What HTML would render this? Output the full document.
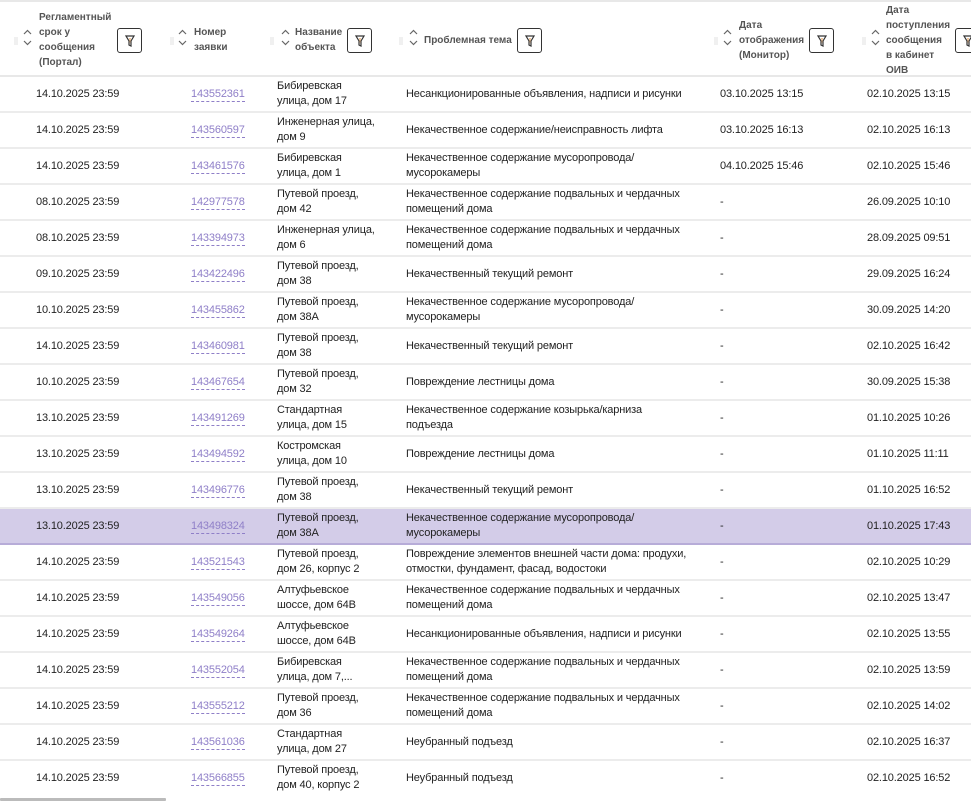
<!DOCTYPE html>
<html><head><meta charset="utf-8"><style>
*{margin:0;padding:0;box-sizing:border-box}
body{width:971px;height:812px;overflow:hidden;background:#fff;font-family:"Liberation Sans",Arial,sans-serif;font-size:11px;letter-spacing:-0.15px;color:#222;position:relative}
.hdr{position:absolute;left:0;top:0;width:971px;height:77px;border-top:2px solid #e8e8e8;border-bottom:2px solid #e8e8e8}
.h{position:absolute;font-size:10px;font-weight:bold;color:#555;line-height:15px;letter-spacing:0}
.fb{position:absolute;top:26px;width:25px;height:25px;border:1px solid #333;border-radius:3px}
.fb svg{position:absolute;left:7px;top:6px}
.ar{position:absolute}
.dt{position:absolute;width:4px;height:8px;top:35px;background:radial-gradient(circle,#ccc 0.7px,transparent 0.8px) 0 0/2px 2px}
.r{position:absolute;left:0;width:971px;height:36px;border-bottom:2px solid #ececec}
.r.sel{background:#d3cce8;border-bottom-color:#b7acd8}
.c{position:absolute;top:0;height:34px;display:flex;align-items:center;line-height:15px}
.a{left:36px}.b{left:191px;color:#8f7fc8;}
.b span{border-bottom:1px dashed #8f7fc8;line-height:14px}
.o{left:277px;width:125px}.t{left:406px;width:300px}.m{left:720px}.d{left:867px}
.sb{position:absolute;left:0;top:798px;width:166px;height:3px;background:#bbb;border-radius:1px}
</style></head><body>
<svg width="0" height="0" style="position:absolute"><defs>
<g id="ch"><path d="M1 5 L4.5 1.5 L8 5" fill="none" stroke="#666" stroke-width="1.2"/><path d="M1 12 L4.5 15.5 L8 12" fill="none" stroke="#666" stroke-width="1.2"/></g>
<g id="fn"><path d="M1 1 L9 1 L6 6 L6 11 L4 10 L4 6 Z" fill="none" stroke="#333" stroke-width="1.2"/><path d="M4.5 3 L5.5 3 L5 9Z" fill="#e08020"/></g>
</defs></svg>
<div class="hdr">
<div class="dt" style="left:14px"></div><svg class="ar" style="left:23px;top:27px" width="10" height="18"><use href="#ch"/></svg>
<div class="h" style="left:39px;top:8px">Регламентный<br>срок у<br>сообщения<br>(Портал)</div>
<div class="fb" style="left:117px"><svg width="11" height="12"><use href="#fn"/></svg></div>
<div class="dt" style="left:170px"></div><svg class="ar" style="left:178px;top:27px" width="10" height="18"><use href="#ch"/></svg>
<div class="h" style="left:194px;top:23px">Номер<br>заявки</div>
<div class="dt" style="left:270px"></div><svg class="ar" style="left:281px;top:27px" width="10" height="18"><use href="#ch"/></svg>
<div class="h" style="left:295px;top:23px">Название<br>объекта</div>
<div class="fb" style="left:347px"><svg width="11" height="12"><use href="#fn"/></svg></div>
<div class="dt" style="left:399px"></div><svg class="ar" style="left:409px;top:27px" width="10" height="18"><use href="#ch"/></svg>
<div class="h" style="left:424px;top:31px">Проблемная тема</div>
<div class="fb" style="left:517px"><svg width="11" height="12"><use href="#fn"/></svg></div>
<div class="dt" style="left:714px"></div><svg class="ar" style="left:723px;top:27px" width="10" height="18"><use href="#ch"/></svg>
<div class="h" style="left:739px;top:16px">Дата<br>отображения<br>(Монитор)</div>
<div class="fb" style="left:809px"><svg width="11" height="12"><use href="#fn"/></svg></div>
<div class="dt" style="left:862px"></div><svg class="ar" style="left:871px;top:27px" width="10" height="18"><use href="#ch"/></svg>
<div class="h" style="left:886px;top:1px">Дата<br>поступления<br>сообщения<br>в кабинет<br>ОИВ</div>
<div class="fb" style="left:955px"><svg width="11" height="12"><use href="#fn"/></svg></div>
</div>

<div class="r" style="top:77px"><div class="c a">14.10.2025 23:59</div><div class="c b"><span>143552361</span></div><div class="c o">Бибиревская<br>улица, дом 17</div><div class="c t">Несанкционированные объявления, надписи и рисунки</div><div class="c m">03.10.2025 13:15</div><div class="c d">02.10.2025 13:15</div></div>
<div class="r" style="top:113px"><div class="c a">14.10.2025 23:59</div><div class="c b"><span>143560597</span></div><div class="c o">Инженерная улица,<br>дом 9</div><div class="c t">Некачественное содержание/неисправность лифта</div><div class="c m">03.10.2025 16:13</div><div class="c d">02.10.2025 16:13</div></div>
<div class="r" style="top:149px"><div class="c a">14.10.2025 23:59</div><div class="c b"><span>143461576</span></div><div class="c o">Бибиревская<br>улица, дом 1</div><div class="c t">Некачественное содержание мусоропровода/<br>мусорокамеры</div><div class="c m">04.10.2025 15:46</div><div class="c d">02.10.2025 15:46</div></div>
<div class="r" style="top:185px"><div class="c a">08.10.2025 23:59</div><div class="c b"><span>142977578</span></div><div class="c o">Путевой проезд,<br>дом 42</div><div class="c t">Некачественное содержание подвальных и чердачных<br>помещений дома</div><div class="c m">-</div><div class="c d">26.09.2025 10:10</div></div>
<div class="r" style="top:221px"><div class="c a">08.10.2025 23:59</div><div class="c b"><span>143394973</span></div><div class="c o">Инженерная улица,<br>дом 6</div><div class="c t">Некачественное содержание подвальных и чердачных<br>помещений дома</div><div class="c m">-</div><div class="c d">28.09.2025 09:51</div></div>
<div class="r" style="top:257px"><div class="c a">09.10.2025 23:59</div><div class="c b"><span>143422496</span></div><div class="c o">Путевой проезд,<br>дом 38</div><div class="c t">Некачественный текущий ремонт</div><div class="c m">-</div><div class="c d">29.09.2025 16:24</div></div>
<div class="r" style="top:293px"><div class="c a">10.10.2025 23:59</div><div class="c b"><span>143455862</span></div><div class="c o">Путевой проезд,<br>дом 38А</div><div class="c t">Некачественное содержание мусоропровода/<br>мусорокамеры</div><div class="c m">-</div><div class="c d">30.09.2025 14:20</div></div>
<div class="r" style="top:329px"><div class="c a">14.10.2025 23:59</div><div class="c b"><span>143460981</span></div><div class="c o">Путевой проезд,<br>дом 38</div><div class="c t">Некачественный текущий ремонт</div><div class="c m">-</div><div class="c d">02.10.2025 16:42</div></div>
<div class="r" style="top:365px"><div class="c a">10.10.2025 23:59</div><div class="c b"><span>143467654</span></div><div class="c o">Путевой проезд,<br>дом 32</div><div class="c t">Повреждение лестницы дома</div><div class="c m">-</div><div class="c d">30.09.2025 15:38</div></div>
<div class="r" style="top:401px"><div class="c a">13.10.2025 23:59</div><div class="c b"><span>143491269</span></div><div class="c o">Стандартная<br>улица, дом 15</div><div class="c t">Некачественное содержание козырька/карниза<br>подъезда</div><div class="c m">-</div><div class="c d">01.10.2025 10:26</div></div>
<div class="r" style="top:437px"><div class="c a">13.10.2025 23:59</div><div class="c b"><span>143494592</span></div><div class="c o">Костромская<br>улица, дом 10</div><div class="c t">Повреждение лестницы дома</div><div class="c m">-</div><div class="c d">01.10.2025 11:11</div></div>
<div class="r" style="top:473px"><div class="c a">13.10.2025 23:59</div><div class="c b"><span>143496776</span></div><div class="c o">Путевой проезд,<br>дом 38</div><div class="c t">Некачественный текущий ремонт</div><div class="c m">-</div><div class="c d">01.10.2025 16:52</div></div>
<div class="r sel" style="top:509px"><div class="c a">13.10.2025 23:59</div><div class="c b"><span>143498324</span></div><div class="c o">Путевой проезд,<br>дом 38А</div><div class="c t">Некачественное содержание мусоропровода/<br>мусорокамеры</div><div class="c m">-</div><div class="c d">01.10.2025 17:43</div></div>
<div class="r" style="top:545px"><div class="c a">14.10.2025 23:59</div><div class="c b"><span>143521543</span></div><div class="c o">Путевой проезд,<br>дом 26, корпус 2</div><div class="c t">Повреждение элементов внешней части дома: продухи,<br>отмостки, фундамент, фасад, водостоки</div><div class="c m">-</div><div class="c d">02.10.2025 10:29</div></div>
<div class="r" style="top:581px"><div class="c a">14.10.2025 23:59</div><div class="c b"><span>143549056</span></div><div class="c o">Алтуфьевское<br>шоссе, дом 64В</div><div class="c t">Некачественное содержание подвальных и чердачных<br>помещений дома</div><div class="c m">-</div><div class="c d">02.10.2025 13:47</div></div>
<div class="r" style="top:617px"><div class="c a">14.10.2025 23:59</div><div class="c b"><span>143549264</span></div><div class="c o">Алтуфьевское<br>шоссе, дом 64В</div><div class="c t">Несанкционированные объявления, надписи и рисунки</div><div class="c m">-</div><div class="c d">02.10.2025 13:55</div></div>
<div class="r" style="top:653px"><div class="c a">14.10.2025 23:59</div><div class="c b"><span>143552054</span></div><div class="c o">Бибиревская<br>улица, дом 7,...</div><div class="c t">Некачественное содержание подвальных и чердачных<br>помещений дома</div><div class="c m">-</div><div class="c d">02.10.2025 13:59</div></div>
<div class="r" style="top:689px"><div class="c a">14.10.2025 23:59</div><div class="c b"><span>143555212</span></div><div class="c o">Путевой проезд,<br>дом 36</div><div class="c t">Некачественное содержание подвальных и чердачных<br>помещений дома</div><div class="c m">-</div><div class="c d">02.10.2025 14:02</div></div>
<div class="r" style="top:725px"><div class="c a">14.10.2025 23:59</div><div class="c b"><span>143561036</span></div><div class="c o">Стандартная<br>улица, дом 27</div><div class="c t">Неубранный подъезд</div><div class="c m">-</div><div class="c d">02.10.2025 16:37</div></div>
<div class="r" style="top:761px;border-bottom:none"><div class="c a">14.10.2025 23:59</div><div class="c b"><span>143566855</span></div><div class="c o">Путевой проезд,<br>дом 40, корпус 2</div><div class="c t">Неубранный подъезд</div><div class="c m">-</div><div class="c d">02.10.2025 16:52</div></div>
<div class="sb"></div>
</body></html>
